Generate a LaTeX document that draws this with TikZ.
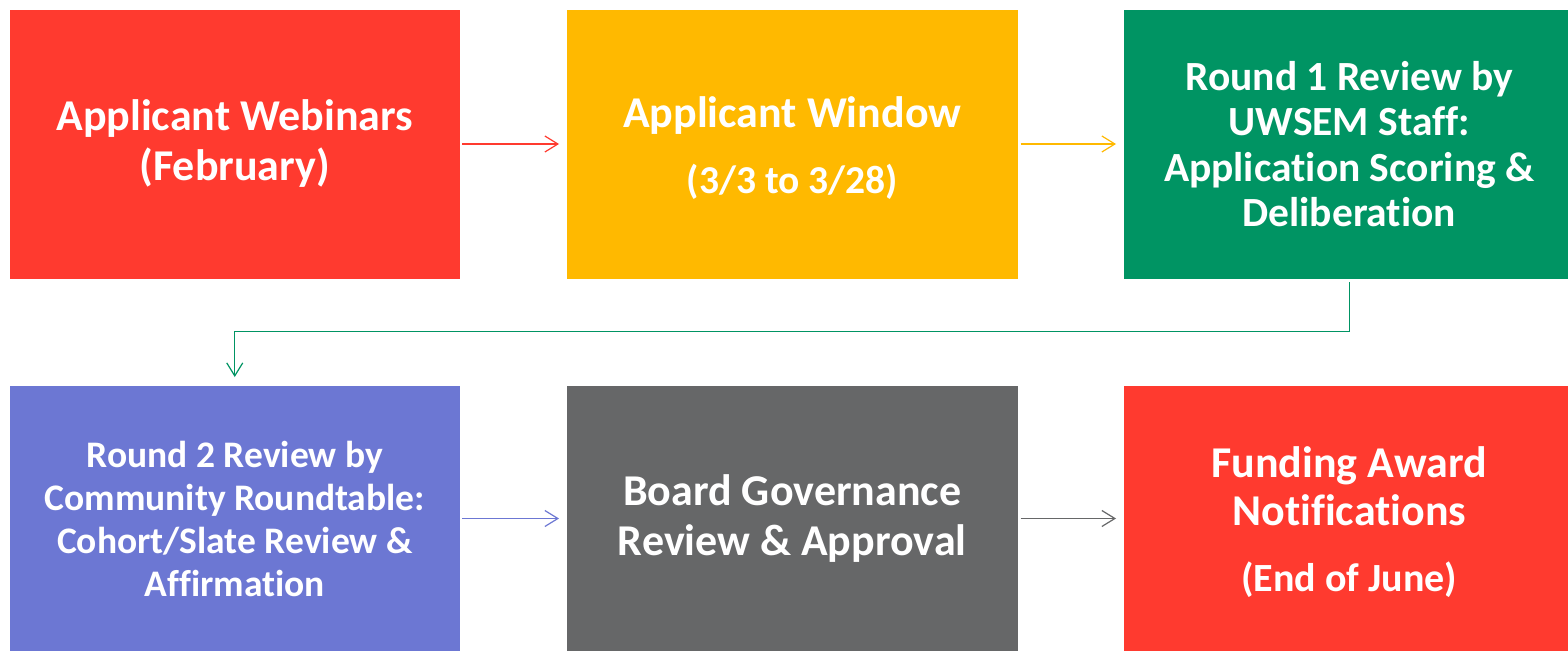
\documentclass[tikz,border=0pt]{standalone}
\usepackage{fontspec}
\setmainfont[Ligatures=NoCommon]{Carlito}
\usetikzlibrary{arrows.meta}
\definecolor{cred}{HTML}{FF3A2F}
\definecolor{corange}{HTML}{FFB900}
\definecolor{cgreen}{HTML}{009463}
\definecolor{cpurple}{HTML}{6C77D3}
\definecolor{cgray}{HTML}{666768}
\begin{document}
\begin{tikzpicture}[x=1pt,y=-1pt,
  box/.style={fill=#1, draw=none, rectangle, anchor=north west, inner sep=0pt, outer sep=0pt,
    text=white, align=center},
  topbox/.style={box=#1, minimum width=450.5pt, minimum height=269pt},
  botbox/.style={box=#1, minimum width=450.5pt, minimum height=265pt},
  conn/.style={draw=#1, line width=1.2pt, -{Straight Barb[length=13pt,width=16pt,line width=1.2pt]}},
  fa/.style={font=\fontsize{44}{50}\selectfont\bfseries},
  fb/.style={font=\fontsize{41.5}{45.5}\selectfont\bfseries},
  fc/.style={font=\fontsize{37.5}{43}\selectfont\bfseries}]
\useasboundingbox[fill=white] (0,0) rectangle (1568,651);
\node[topbox=cred, fa] (b1) at (9.5,9.5) {Applicant Webinars\\(February)};
\node[topbox=corange, fa] (b2) at (567,9.5) {\rule{0pt}{39pt}Applicant Window\\[16pt]{\fontsize{39.5}{45}\selectfont (3/3 to 3/28)}};
\node[topbox=cgreen, fb] (b3) at (1124,9.5) {Round 1 Review by\\UWSEM Staff:\\Application Scoring \&\\Deliberation};
\node[botbox=cpurple, fc] (b4) at (9.5,386) {Round 2 Review by\\Community Roundtable:\\Cohort/Slate Review \&\\Affirmation};
\node[botbox=cgray, fa] (b5) at (567,386) {Board Governance\\Review \& Approval};
\node[botbox=cred, font=\fontsize{44}{48}\selectfont\bfseries] (b6) at (1124,386) {\\[-9pt]Funding Award\\Notifications\\[18pt]{\fontsize{40}{45}\selectfont (End of June)}};
\draw[conn=cred, shorten <=2pt, shorten >=8pt] (b1.east) -- (b2.west);
\draw[conn=corange, shorten <=3pt, shorten >=8pt] (b2.east) -- (b3.west);
\draw[conn=cpurple, shorten <=2pt, shorten >=8pt] (b4.east) -- (b5.west);
\draw[conn=cgray, shorten <=3pt, shorten >=8pt] (b5.east) -- (b6.west);
\draw[conn=cgreen, shorten <=3.5pt, shorten >=9pt] (b3.south) -- ++(0,53) -| (b4.north);
\end{tikzpicture}
\end{document}
